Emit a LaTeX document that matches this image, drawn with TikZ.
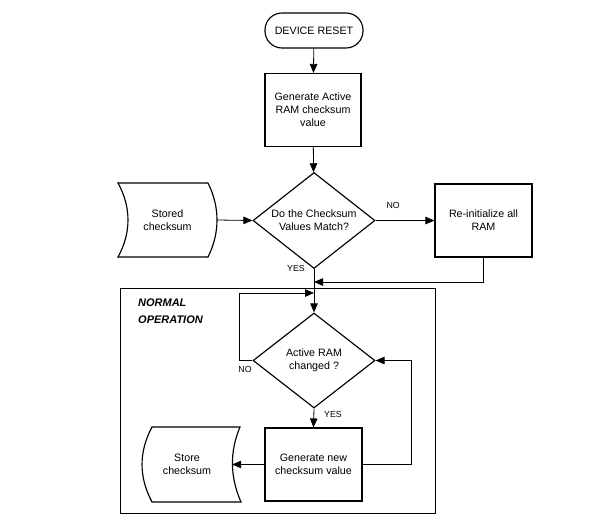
\documentclass[tikz,border=0pt]{standalone}
\usepackage{fontspec}
\setmainfont{Liberation Sans}
\usetikzlibrary{shapes.geometric,arrows.meta,calc}
\begin{document}
\begin{tikzpicture}[x=1pt,y=-1pt,
  every node/.style={font=\fontsize{10.7}{13}\selectfont, align=center},
  shp/.style={draw, line width=1.15pt},
  proc/.style={shp, rectangle, minimum width=96pt, minimum height=73pt, inner sep=0pt},
  term/.style={shp, rectangle, rounded corners=17pt, minimum width=98pt, minimum height=35pt, inner sep=0pt},
  dec/.style={shp, diamond, aspect=1.27, minimum width=122pt, minimum height=96pt, inner sep=0pt},
  txt/.style={inner sep=0pt},
  lbl/.style={font=\fontsize{8.8}{10}\selectfont, inner sep=0pt},
  conn/.style={line width=0.8pt},
  arr/.style={conn, -{Triangle[length=9pt,width=7.5pt]}},
  frm/.style={draw, line width=0.8pt}
]
\useasboundingbox (0,0) rectangle (590,523);

\node[term] (reset) at (314,30.5) {DEVICE RESET};
\node[proc] (gen1) at (313,110) {Generate Active\\RAM checksum\\value};
\node[dec] (d1) at (314,220.5) {Do the Checksum\\Values Match?};
\node[txt, minimum width=99pt, minimum height=74pt] (stored) at (167.5,220) {Stored\\checksum};
\draw[shp] (118,183) .. controls (131.3,207) and (131.3,233) .. (118,257) -- (208,257) .. controls (220,233) and (220,207) .. (208,183) -- cycle;
\node[proc, minimum width=97pt] (reinit) at (483.5,220.5) {Re-initialize all\\RAM};

\draw[frm] (120,288) rectangle (435,513);
\node[txt, anchor=west, align=left, font=\fontsize{11}{17}\selectfont\bfseries\itshape] (normop) at (138,311.5) {NORMAL\\OPERATION};

\node[dec, minimum height=95pt] (d2) at (314,360.5) {Active RAM\\changed ?};
\node[proc, minimum width=97pt] (gen2) at (313.5,464.5) {Generate new\\checksum value};
\node[txt, minimum width=90pt, minimum height=75pt] (store) at (187,464.5) {Store\\checksum};
\draw[shp] (152,427) .. controls (138.7,452) and (138.7,477) .. (152,502) -- (241,502) .. controls (230,477) and (229.5,452) .. (240,427) -- cycle;

\coordinate (j1) at (314,282);
\coordinate (j2) at (314,293);

\draw[arr] (reset) -- (gen1);
\draw[arr] (gen1) -- (d1);
\draw[arr] (stored.east) -- (d1.west);
\draw[arr] (d1.east) -- (reinit.west) node[lbl, pos=0.3, above=12pt] (no1) {NO};
\draw[arr] (d1.south) -- (d2.north);
\node[lbl, anchor=east] (yes1) at (305,268.5) {YES};
\draw[arr] (reinit.south) |- (j1);
\draw[arr] (d2.west) -- ++(-13,0) |- (j2);
\node[lbl] (no2) at (245,369) {NO};
\draw[arr] (d2.south) -- (gen2.north);
\node[lbl, anchor=west] (yes2) at (324,414) {YES};
\draw[arr] (gen2.west) -- (store.east);
\draw[arr] (gen2.east) -- (411,464.5) |- (d2.east);
\end{tikzpicture}
\end{document}
